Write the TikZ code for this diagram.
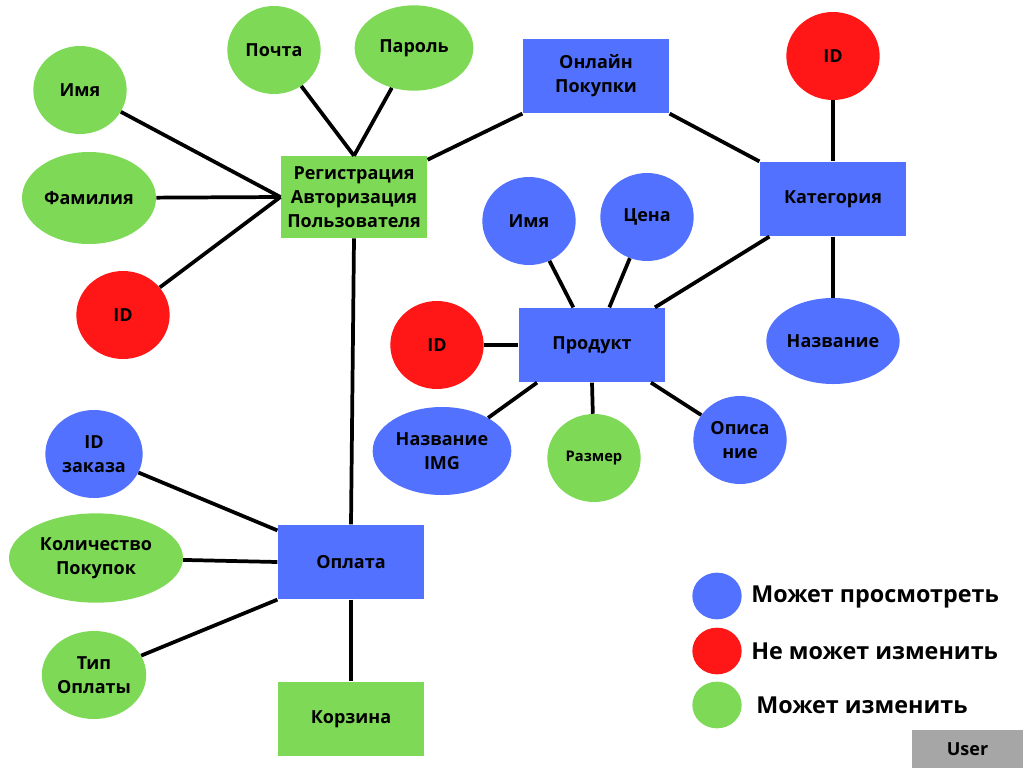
\documentclass[tikz,border=0pt]{standalone}
\usepackage{fontspec}
\setmainfont{Open Sans}
\usetikzlibrary{shapes.geometric}
\definecolor{grn}{HTML}{7ED957}
\definecolor{blu}{HTML}{5271FF}
\definecolor{rd}{HTML}{FF1616}
\definecolor{gry}{HTML}{A6A6A6}

\begin{document}
\begin{tikzpicture}[x=0.75pt, y=-0.75pt,
  every node/.append style={font=\bfseries\fontsize{13.5}{18}\selectfont},
  ent/.style={rectangle, minimum width=110pt, minimum height=56pt, inner sep=0pt, align=center},
  ele/.style={ellipse, minimum width=70pt, minimum height=66pt, inner sep=0pt, align=center},
  leg/.style={font=\bfseries\fontsize{17.5}{21}\selectfont, anchor=west, inner sep=0pt},
  con/.style={line width=2.8pt}]
  \useasboundingbox[fill=white] (0,0) rectangle (1024,768);

  % entities
  \node[ent, fill=grn, minimum height=61.5pt] (reg) at (354,197) {Регистрация\\Авторизация\\Пользователя};
  \node[ent, fill=blu] (onl) at (596,76) {Онлайн\\Покупки};
  \node[ent, fill=blu] (kat) at (833,199) {Категория};
  \node[ent, fill=blu] (prod) at (592,345) {Продукт};
  \node[ent, fill=blu] (opl) at (351,562) {Оплата};
  \node[ent, fill=grn] (korz) at (351,719) {Корзина};

  % user attributes
  \node[ele, fill=grn] (r1) at (80,90) {Имя};
  \node[ele, fill=grn, minimum width=100.5pt, minimum height=69pt] (r2) at (89,198) {Фамилия};
  \node[ele, fill=rd] (r3) at (123,315) {ID};
  \node[ele, fill=grn] (r4) at (274,50) {Почта};
  \node[ele, fill=grn, minimum width=89pt, minimum height=64pt] (r5) at (414,48) {Пароль};

  % category attributes
  \node[ele, fill=rd] (k1) at (833,56) {ID};
  \node[ele, fill=blu, minimum width=100pt, minimum height=64.5pt] (k2) at (833,341) {Название};

  % product attributes
  \node[ele, fill=blu] (p1) at (529,221) {Имя};
  \node[ele, fill=blu] (p2) at (647,217) {Цена};
  \node[ele, fill=rd] (p3) at (437,345) {ID};
  \node[ele, fill=blu, minimum width=104pt] (p4) at (442,451) {Название\\IMG};
  \node[ele, fill=grn, font=\bfseries\fontsize{11}{14}\selectfont] (p5) at (594,458) {Размер};
  \node[ele, fill=blu] (p6) at (740,440) {Описа\\ние};

  % payment attributes
  \node[ele, fill=blu, minimum width=73pt] (o1) at (94,454) {ID\\заказа};
  \node[ele, fill=grn, minimum width=130.5pt, minimum height=67pt] (o2) at (96,558) {Количество\\Покупок};
  \node[ele, fill=grn, minimum width=76.5pt] (o3) at (94,675) {Тип\\Оплаты};

  \draw[con] (r1) -- (reg.west);
  \draw[con] (r2) -- (reg.west);
  \draw[con] (r3) -- (reg.west);
  \draw[con] (r4) -- (reg.north);
  \draw[con] (r5) -- (reg.north);
  \draw[con] ([yshift=-3pt]reg.north east) -- (onl.south west);
  \draw[con] (onl.south east) -- (kat.north west);
  \draw[con] (k1) -- (kat.north);
  \draw[con] (kat.south) -- (k2);
  \draw[con] ([xshift=7.5pt]kat.south west) -- ([xshift=-8pt]prod.north east);
  \draw[con] (p1) -- ([xshift=-14pt]prod.north);
  \draw[con] (p2) -- ([xshift=13pt]prod.north);
  \draw[con] (p3) -- (prod.west);
  \draw[con] (p4) -- ([xshift=14pt]prod.south west);
  \draw[con] (prod.south) -- (p5);
  \draw[con] ([xshift=-11pt]prod.south east) -- (p6);
  \draw[con] (reg.south) -- (opl.north);
  \draw[con] (o1) -- ([yshift=-4.5pt]opl.north west);
  \draw[con] (o2) -- (opl.west);
  \draw[con] (o3) -- (opl.south west);
  \draw[con] (opl.south) -- (korz.north);

  % legend
  \node[ellipse, fill=blu, minimum width=37pt, minimum height=35pt] (l1) at (717,596) {};
  \node[ellipse, fill=rd, minimum width=37pt, minimum height=35pt] (l2) at (717,651) {};
  \node[ellipse, fill=grn, minimum width=37pt, minimum height=35pt] (l3) at (717,705) {};
  \node[leg] (t1) at (751,597) {Может просмотреть};
  \node[leg] (t2) at (751,651) {Не может изменить};
  \node[leg] (t3) at (756,705) {Может изменить};
  \node[fill=gry, minimum width=83pt, minimum height=28.5pt, inner sep=0pt] (usr) at (967.5,749) {User};
\end{tikzpicture}
\end{document}
